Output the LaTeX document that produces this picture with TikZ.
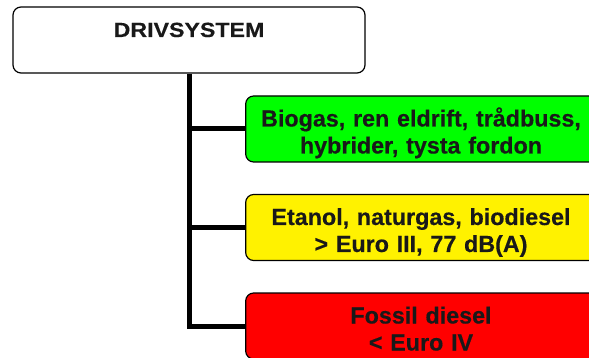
\documentclass[tikz,border=0pt]{standalone}
\usepackage{fontspec}
\newfontfamily\boxfont{Liberation Sans}[FakeBold=0.4]
\newfontfamily\titlefont{Liberation Sans}[FakeStretch=1.13,FakeBold=0.3]
\usetikzlibrary{positioning}

\begin{document}
\begin{tikzpicture}[x=1pt,y=1pt,node distance=98.5pt]
\tikzstyle{every node}=[font=\boxfont\bfseries\fontsize{23.3}{27}\selectfont,text=black!90]
\tikzstyle{topbox}=[draw=black,line width=1.2pt,rounded corners=8pt,fill=white,minimum width=352pt,minimum height=66pt,inner ysep=0pt,text height=22pt,text depth=28pt,font=\titlefont\bfseries\fontsize{20.5}{24}\selectfont]
\tikzstyle{level}=[draw=black,line width=1.2pt,rounded corners=8pt,minimum width=346pt,minimum height=66pt,inner ysep=0pt,text width=344pt,align=center,text height=16pt,text depth=21pt]
\tikzstyle{trunk}=[line width=5pt]
\useasboundingbox (0,0) rectangle (589,-358);
\clip (0,0) rectangle (589,-358);
\node[topbox] (drive) at (189,-40) {DRIVSYSTEM};
\node[level,fill=green] (green) at (421,-129) {Biogas, ren eldrift, trådbuss,\\ hybrider, tysta fordon};
\node[level,fill=yellow][below of=green] (yellow) {Etanol, naturgas, biodiesel\\ > Euro III, 77 dB(A)};
\node[level,fill=red][below of=yellow] (red) {Fossil diesel\\ < Euro IV};
\draw[trunk] (drive.south) |- (red.west);
\draw[trunk] (drive.south |- green.west) -- (green.west);
\draw[trunk] (drive.south |- yellow.west) -- (yellow.west);
\end{tikzpicture}
\end{document}
